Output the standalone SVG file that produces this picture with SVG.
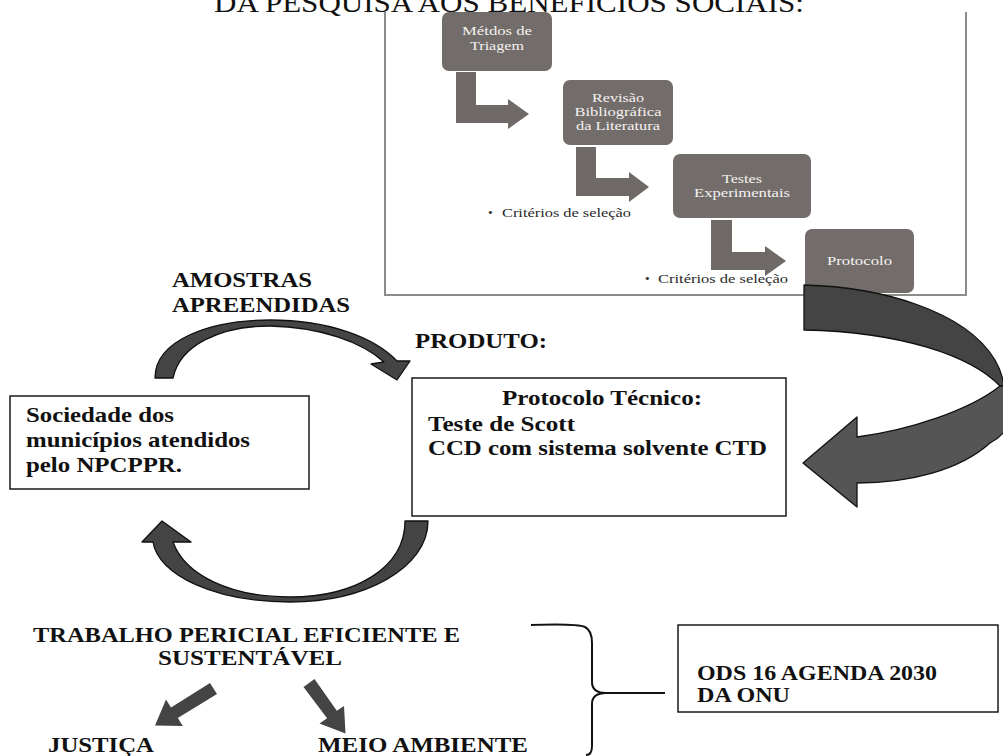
<svg xmlns="http://www.w3.org/2000/svg" width="1003" height="756" viewBox="0 0 1003 756">
<style>
.b{font-family:"Liberation Serif","Times New Roman",serif;font-weight:bold;font-size:21px;fill:#111}
.t{font-family:"Liberation Serif","Times New Roman",serif;font-size:27px;fill:#111}
.s{font-family:"Liberation Serif","Times New Roman",serif;font-size:13.5px;fill:#f4f2f0;text-anchor:middle}
.c{font-family:"Liberation Serif","Times New Roman",serif;font-size:13.5px;fill:#2a2a2a}
.box{fill:#fff;stroke:#1a1a1a;stroke-width:1.5}
.gbox{fill:#726c6a}
.garrow{fill:#6f6a68}
.big{fill:#444;stroke:#111;stroke-width:1.3;stroke-linejoin:round}
.big2{fill:#555;stroke:#111;stroke-width:1.3;stroke-linejoin:round}
.blk{fill:#444}
.frame{fill:none;stroke:#8c8c8c;stroke-width:2}
.brace{fill:none;stroke:#111;stroke-width:2;stroke-linejoin:round}
</style>
<rect width="1003" height="756" fill="#fff"/>
<text class="t" x="214" y="12" textLength="590" lengthAdjust="spacingAndGlyphs">DA PESQUISA AOS BENEFÍCIOS SOCIAIS:</text>

<g id="inset">
<path class="frame" d="M385,12 V295 H966 V12"/>
<g id="n-metodos">
<rect class="gbox" x="442" y="12" width="110" height="59" rx="7"/>
<text class="s" x="497" y="35" textLength="70" lengthAdjust="spacingAndGlyphs">Métdos de</text>
<text class="s" x="497" y="50" textLength="54" lengthAdjust="spacingAndGlyphs">Triagem</text>
</g>
<g id="n-revisao">
<rect class="gbox" x="563" y="80" width="110" height="65" rx="7"/>
<text class="s" x="618" y="102" textLength="52" lengthAdjust="spacingAndGlyphs">Revisão</text>
<text class="s" x="618" y="116" textLength="87" lengthAdjust="spacingAndGlyphs">Bibliográfica</text>
<text class="s" x="618" y="130" textLength="84" lengthAdjust="spacingAndGlyphs">da Literatura</text>
</g>
<g id="n-testes">
<rect class="gbox" x="673" y="154" width="138" height="64" rx="7"/>
<text class="s" x="742" y="183" textLength="40" lengthAdjust="spacingAndGlyphs">Testes</text>
<text class="s" x="742" y="197" textLength="96" lengthAdjust="spacingAndGlyphs">Experimentais</text>
</g>
<g id="n-protocolo">
<rect class="gbox" x="805" y="229" width="109" height="64" rx="7"/>
<text class="s" x="859.5" y="265" textLength="65" lengthAdjust="spacingAndGlyphs">Protocolo</text>
</g>
<g id="inset-notes">
<text class="c" x="488" y="217">•</text>
<text class="c" x="502" y="217" textLength="129" lengthAdjust="spacingAndGlyphs">Critérios de seleção</text>
<text class="c" x="645" y="283">•</text>
<text class="c" x="658" y="283" textLength="130" lengthAdjust="spacingAndGlyphs">Critérios de seleção</text>
</g>
</g>

<g id="connectors">
<polygon class="garrow" points="456,72 476,72 476,105 508,105 508,99 529,114 508,129 508,123 456,123"/>
<polygon class="garrow" points="576,147 596,147 596,178 629,178 629,172 649,187 629,202 629,196 576,196"/>
<polygon class="garrow" points="711,220 732,220 732,252 765,252 765,246 786,261 765,276 765,270 711,270"/>
<path class="big" d="M804,285 C880,287 965,310 995,360 Q1002,372 1004,386 L1000,386 C970,355 900,332 804,330 Z"/>
<path class="big2" d="M1000,386 L1004,386 L1012,400 C1014,420 1006,435 990,443 C960,470 910,483 857,483 L857,507 L803,463 L857,417 L857,437 C910,430 970,410 1000,386 Z"/>
<path class="big" d="M155,378 C155,340 210,320 270,320 C330,320 375,338 397,361 L410,361 L397,380 L371,364 L384,362 C362,342 320,327 270,326 C220,326 180,345 173,378 Z"/>
<path class="big" d="M428,521 C428,568 365,602 290,602 C215,602 158,575 153,542 L142,542 L162,521 L191,542 L173,542 C185,575 230,597 290,597 C355,597 405,568 405,521 Z"/>
<polygon class="blk" points="217,694 177.8,718 182.8,726 155,725.5 166,699.5 171,707.6 210,683"/>
<polygon class="blk" points="314.5,679 336.8,710.7 344,706 345.5,733.5 319.5,723.5 327.1,718.3 303.5,687"/>
<path class="brace" d="M531,625 C560,624 578,624 585,627 C591,630 592,636 592,643 V682 C592,689 596,693 606,693 H665 M606,693 C596,693 592,697 592,704 V746 C592,752 590,755 586,755"/>
</g>

<g id="n-amostras">
<text class="b" x="172" y="287" textLength="140" lengthAdjust="spacingAndGlyphs">AMOSTRAS</text>
<text class="b" x="172" y="312" textLength="178" lengthAdjust="spacingAndGlyphs">APREENDIDAS</text>
</g>
<g id="n-produto">
<text class="b" x="415" y="348" textLength="132" lengthAdjust="spacingAndGlyphs">PRODUTO:</text>
</g>
<g id="n-sociedade">
<rect class="box" x="10" y="396" width="299" height="93"/>
<text class="b" x="26" y="422" textLength="148" lengthAdjust="spacingAndGlyphs">Sociedade dos</text>
<text class="b" x="26" y="447" textLength="224" lengthAdjust="spacingAndGlyphs">municípios atendidos</text>
<text class="b" x="26" y="472" textLength="156" lengthAdjust="spacingAndGlyphs">pelo NPCPPR.</text>
</g>
<g id="n-protocolo-tecnico">
<rect class="box" x="412" y="378" width="374" height="138"/>
<text class="b" x="502" y="405" textLength="200" lengthAdjust="spacingAndGlyphs">Protocolo Técnico:</text>
<text class="b" x="428" y="431" textLength="147" lengthAdjust="spacingAndGlyphs">Teste de Scott</text>
<text class="b" x="428" y="455" textLength="339" lengthAdjust="spacingAndGlyphs">CCD com sistema solvente CTD</text>
</g>
<g id="n-trabalho">
<text class="b" x="33" y="642" textLength="427" lengthAdjust="spacingAndGlyphs">TRABALHO PERICIAL EFICIENTE E</text>
<text class="b" x="158" y="665" textLength="184" lengthAdjust="spacingAndGlyphs">SUSTENTÁVEL</text>
</g>
<g id="n-justica">
<text class="b" x="48" y="752" textLength="106" lengthAdjust="spacingAndGlyphs">JUSTIÇA</text>
</g>
<g id="n-meio">
<text class="b" x="318" y="752" textLength="210" lengthAdjust="spacingAndGlyphs">MEIO AMBIENTE</text>
</g>
<g id="n-ods">
<rect class="box" x="678" y="625" width="320" height="87"/>
<text class="b" x="697" y="680" textLength="240" lengthAdjust="spacingAndGlyphs">ODS 16 AGENDA 2030</text>
<text class="b" x="697" y="702" textLength="93" lengthAdjust="spacingAndGlyphs">DA ONU</text>
</g>
</svg>
